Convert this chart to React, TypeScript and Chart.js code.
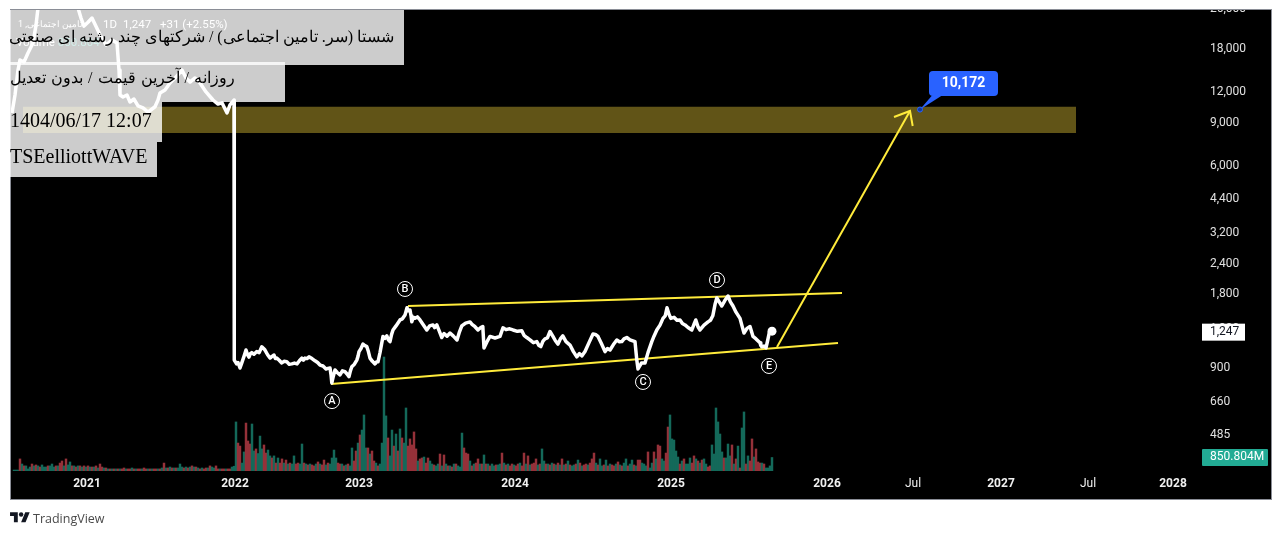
import React, { useEffect, useRef } from 'react';
import { Chart, registerables } from 'chart.js';

Chart.register(...registerables);

// === Price line (bar number, closing price) ===
const priceBars = [
  -1, 0.5, 2, 3, 5, 7, 9.5, 11, 12, 13,
  30, 32, 33.5, 35, 37, 39, 43, 46, 49, 51.5,
  52.5, 53, 54.5, 56.5, 58, 60, 62, 64.5, 67, 70.5,
  72, 73, 75.5, 78, 81.5, 84, 86, 88, 90.5, 93,
  96, 99.5, 102, 104, 106.5, 108, 110, 110, 110,
  110.4, 111.3, 112, 113, 113.9, 115, 116, 116.8, 117.5, 118.2,
  118.9, 120, 121.4, 122.6, 123.9, 124.8, 125.5, 126.8, 128, 129,
  130, 130.7, 131.4, 132.6, 133.9, 135, 136.4, 137.6, 138.9, 140.2,
  141.5, 142.7, 143.9, 144.7, 145.5, 146.5, 147.5, 149, 150.5, 151.8,
  153, 154.5, 156, 157, 158, 158.5, 158.9, 159.7, 160.5, 161.7,
  163, 164.2, 165.5, 166.5, 167.5, 168.2, 168.9, 170.2, 171.4, 172,
  172.5, 173.5, 174.5, 175.4, 176.4, 177.2, 178, 179.2, 180.5, 181.2,
  182, 183, 184.5, 185.4, 186.4, 187.2, 188, 188.8, 189.5, 191,
  193, 194.2, 195.5, 196, 196.5, 197.2, 198, 198.5, 198.9, 199.7,
  200.5, 201.7, 203, 204.2, 205.3, 206.4, 207.8, 209.5, 210.3, 211.4,
  212.6, 213.9, 215, 216.5, 218, 219.7, 221.5, 222.6, 223.9, 225.8,
  228, 229, 230.5, 232, 233.4, 234.4, 235, 236.5, 238, 240.5,
  243, 244.5, 246, 247.8, 249.5, 251.7, 253.9, 255, 256.4, 258,
  259.7, 261.4, 262.5, 263.4, 264.5, 265.5, 266.7, 268, 269.4, 270.7,
  272, 273.2, 274.4, 276, 278, 279.7, 281.4, 282.7, 284, 285.5,
  287.5, 289.5, 290.7, 292, 293.7, 295.5, 296.7, 298, 299.7, 301.4,
  302.7, 303.9, 305, 306.4, 308, 310.5, 311.4, 312, 313.7, 315.5,
  317, 318.9, 320, 321.4, 323, 324.5, 325.6, 326.5, 327.5, 328.4,
  330, 331.5, 333, 334.2, 335.5, 337, 338.9, 340, 340.9, 342,
  343, 345, 347, 348.2, 349.4, 350.5, 351.4, 352.6, 353.9, 355.4,
  357, 358.2, 359.5, 361, 363, 364, 365, 366.5, 368, 368.8,
  369.5, 371, 373, 373.4, 373.9, 375, 376, 376.8, 377.6, 379,
];
const priceValues = [
  9615, 11380, 14380, 15800, 15500, 16870, 18520, 21900, 25700, 35000,
  35000, 25700, 23400, 21700, 22500, 23400, 20000, 18180, 19060, 18520,
  14380, 11380, 11170, 11380, 10660, 10960, 10270, 10080, 9700, 10196,
  10860, 11600, 11930, 12740, 13600, 14380, 13350, 12850, 13350, 12740,
  11710, 10860, 10460, 10570, 9615, 10370, 10860, 4260, 997,
  951, 918, 930, 883, 926, 985, 1045, 1000, 978, 1010,
  1020, 1005, 1030, 1020, 1077, 1060, 1045, 1000, 969, 985,
  997, 965, 969, 950, 926, 940, 936, 915, 918, 925,
  918, 945, 969, 950, 969, 965, 980, 965, 945, 930,
  908, 900, 875, 880, 883, 830, 768, 820, 867, 845,
  828, 860, 853, 835, 815, 860, 894, 915, 951, 985,
  1030, 1060, 1105, 1090, 1079, 1030, 969, 940, 918, 935,
  936, 1020, 1187, 1165, 1193, 1150, 1131, 1210, 1261, 1310,
  1385, 1400, 1452, 1500, 1552, 1510, 1520, 1440, 1363, 1420,
  1406, 1425, 1385, 1340, 1300, 1261, 1310, 1322, 1290, 1322,
  1250, 1175, 1220, 1190, 1225, 1190, 1148, 1230, 1309, 1345,
  1360, 1330, 1300, 1261, 1290, 1303, 1065, 1130, 1187, 1170,
  1187, 1287, 1265, 1275, 1261, 1245, 1252, 1200, 1175, 1150,
  1120, 1131, 1090, 1079, 1135, 1160, 1170, 1243, 1190, 1140,
  1105, 1160, 1193, 1130, 1095, 1030, 980, 1010, 990, 1030,
  1120, 1215, 1210, 1187, 1110, 1030, 1060, 1045, 1100, 1148,
  1130, 1131, 1160, 1175, 1150, 1131, 951, 875, 925, 926,
  1020, 1131, 1190, 1261, 1320, 1406, 1440, 1552, 1460, 1406,
  1420, 1380, 1385, 1340, 1322, 1290, 1261, 1330, 1385, 1300,
  1261, 1320, 1360, 1380, 1440, 1600, 1701, 1640, 1578, 1660,
  1733, 1640, 1578, 1490, 1406, 1310, 1225, 1280, 1303, 1240,
  1187, 1160, 1118, 1090, 1077, 1085, 1067, 1140, 1225, 1247,
];

// === Volume in millions, one value per bar ===
const volumes = [
  60, 60, 60, 760, 440, 320, 320, 130, 250, 440,
  320, 380, 320, 250, 380, 250, 250, 320, 320, 440,
  250, 320, 320, 500, 630, 320, 760, 380, 570, 320,
  320, 250, 320, 320, 250, 320, 250, 320, 250, 250,
  250, 320, 190, 440, 250, 190, 190, 130, 130, 130,
  130, 130, 130, 130, 130, 190, 130, 130, 130, 190,
  130, 130, 130, 130, 130, 190, 130, 130, 130, 130,
  130, 130, 130, 130, 190, 500, 190, 190, 250, 190,
  190, 190, 190, 440, 250, 190, 250, 190, 250, 320,
  250, 250, 190, 130, 190, 130, 190, 190, 320, 250,
  190, 320, 130, 130, 130, 130, 130, 130, 130, 250,
  300, 3090, 1760, 1570, 500, 1200, 3020, 1890, 1700, 2960,
  1260, 1390, 1100, 2200, 1390, 1640, 1130, 1320, 950, 820,
  950, 500, 820, 500, 760, 500, 690, 440, 500, 440,
  950, 440, 500, 440, 1700, 500, 440, 380, 440, 380,
  320, 440, 570, 440, 380, 690, 380, 500, 440, 820,
  1320, 820, 500, 440, 440, 320, 380, 440, 320, 1450,
  630, 1260, 1760, 2270, 2580, 3530, 1450, 1450, 1070, 1260,
  630, 500, 320, 440, 1760, 7180, 3470, 2080, 950, 2580,
  1570, 2330, 1260, 2650, 2080, 1760, 3970, 1570, 2020, 1640,
  2460, 1390, 630, 760, 820, 880, 500, 820, 630, 440,
  380, 320, 440, 1070, 320, 1010, 440, 320, 320, 250,
  440, 440, 320, 250, 2390, 1450, 1130, 1070, 630, 320,
  440, 500, 760, 440, 440, 1010, 440, 440, 320, 440,
  320, 380, 380, 440, 1130, 500, 380, 440, 320, 440,
  380, 320, 440, 500, 320, 1130, 440, 950, 380, 440,
  500, 760, 380, 440, 1390, 630, 440, 440, 380, 500,
  440, 380, 500, 380, 760, 380, 440, 630, 380, 320,
  380, 440, 690, 500, 320, 380, 440, 380, 500, 760,
  1130, 500, 380, 760, 320, 380, 690, 320, 440, 380,
  320, 440, 570, 380, 320, 500, 760, 320, 440, 690,
  380, 320, 690, 690, 500, 440, 320, 1200, 190, 500,
  1200, 760, 1640, 1570, 760, 630, 1130, 2770, 3530, 2020,
  1950, 1260, 880, 440, 630, 760, 440, 440, 820, 500,
  950, 760, 630, 500, 690, 760, 440, 250, 320, 1640,
  1070, 3970, 3090, 2330, 1200, 820, 820, 1700, 950, 1640,
  440, 760, 1570, 190, 2710, 3720, 440, 950, 630, 2020,
  880, 1390, 570, 500, 500, 440, 190, 190, 320, 850.804,
];
const volumeSides =
  'gggrgrgggr' + 'grgrgggrgg' + 'grgrrgrggr' + 'grgrgrgrgr' + 'grgrrgrgrg' + 'rgrgrrgrrg' + 'rgrrgrrgrg' +
  'rrgrgrgrgr' + 'grgggrgrgr' + 'grgrgrrgrg' + 'grrgrrgrrg' + 'ggrrggrrrg' + 'grgggrrggr' + 'grgrrgrgrg' +
  'grrggrgrgr' + 'rgrgrrgrgg' + 'ggrrgrgrgg' + 'rrgrgggrgr' + 'rgrggggrgg' + 'rgrgrggrrr' + 'rrgrrgrrgg' +
  'rggrgrgrgr' + 'grgggrrrgr' + 'grrgrgrgrg' + 'grggrgrgrr' + 'grrgrrgrgr' + 'rrgrggrgrg' + 'rgrgrgrgrg' +
  'grgrgrrgrr' + 'rgrggrgrgr' + 'rgrgrggrgg' + 'rgrrgggrgg' + 'rgrrggrrgg' + 'gggrgrgggr' + 'rgrgrggrrg' +
  'gggggrgggr' + 'grgrggrgrr' + 'grrrgrgggg';

// === Drawings ===
const upperChannelBars = [197, 414];
const upperChannelPrices = [1579, 1783];
const lowerChannelBars = [158.5, 412];
const lowerChannelPrices = [760, 1116];
const arrowBars = [381.5, 448];
const arrowPrices = [1075, 9800];
const arrowHeadBars = [440, 448, 449.35];
const arrowHeadPrices = [9260, 9800, 8515];
const waveBars = [159, 195.5, 314.5, 351.5, 377.5];
const wavePrices = [648, 1851, 775, 2013, 900];
const waveLabels = ['A', 'B', 'C', 'D', 'E'];
const bandBars = [4.5, 531];
const bandTop = 10196;
const bandBottom = 7970;
const targetBar = 453;
const targetPrice = 9930;
const targetLabel = '10,172';

// === Axes ===
const priceTicks = [26000, 18000, 12000, 9000, 6000, 4400, 3200, 2400, 1800, 1300, 900, 660, 485];
const xTickBars = [36.5, 110.5, 172.5, 250.5, 328.5, 406.5, 449.5, 493.5, 537, 579.5];
const xTickLabels = ['2021', '2022', '2023', '2024', '2025', '2026', 'Jul', '2027', 'Jul', '2028'];
const lastPrice = 1247;
const lastVolume = 850.804;

const FONT = 'Roboto, sans-serif';
const YELLOW = '#ffeb3b';

const toPoints = (xs: number[], ys: number[]) => xs.map((x, i) => ({ x, y: ys[i] }));

const yellowLine = (xs: number[], ys: number[]) => ({
  type: 'line' as const,
  data: toPoints(xs, ys),
  yAxisID: 'y',
  borderColor: YELLOW,
  borderWidth: 2,
  pointRadius: 0,
  order: 3,
});

const framePlugin = {
  id: 'frame',
  beforeDraw(chart: any) {
    const { ctx, width, height } = chart;
    ctx.save();
    ctx.fillStyle = '#000';
    ctx.fillRect(0, 0, width, height);
    ctx.restore();
  },
  afterDraw(chart: any) {
    const { ctx, width, height, scales } = chart;
    const { x, y, vol } = scales;
    ctx.save();

    // wave letters
    ctx.font = `500 11px ${FONT}`;
    ctx.fillStyle = '#fff';
    ctx.textAlign = 'center';
    ctx.textBaseline = 'middle';
    waveLabels.forEach((label, i) => {
      ctx.fillText(label, x.getPixelForValue(waveBars[i]), y.getPixelForValue(wavePrices[i]) + 0.5);
    });

    // target callout
    const tx = x.getPixelForValue(targetBar);
    const ty = y.getPixelForValue(targetPrice);
    ctx.fillStyle = '#2962ff';
    ctx.beginPath();
    ctx.moveTo(tx, ty);
    ctx.lineTo(tx + 12, ty - 14);
    ctx.lineTo(tx + 22, ty - 14);
    ctx.closePath();
    ctx.fill();
    ctx.beginPath();
    ctx.roundRect(tx + 9, ty - 38.5, 69, 25, 4);
    ctx.fill();
    ctx.beginPath();
    ctx.arc(tx, ty, 2.5, 0, Math.PI * 2);
    ctx.fillStyle = '#123a9c';
    ctx.fill();
    ctx.strokeStyle = '#2962ff';
    ctx.lineWidth = 1;
    ctx.stroke();
    ctx.fillStyle = '#fff';
    ctx.font = `bold 14px ${FONT}`;
    ctx.fillText(targetLabel, tx + 43.5, ty - 26);

    // last value tags on the price scale
    ctx.textAlign = 'left';
    ctx.font = `12px ${FONT}`;
    const py = y.getPixelForValue(lastPrice) + 1;
    ctx.fillStyle = '#fff';
    ctx.fillRect(1202, py - 8.5, 43, 17);
    ctx.fillStyle = '#131722';
    ctx.fillText('1,247', 1210, py);
    const vy = vol.getPixelForValue(lastVolume);
    ctx.fillStyle = '#22ab94';
    ctx.beginPath();
    ctx.roundRect(1202, vy - 8.5, 66, 17, 1);
    ctx.fill();
    ctx.fillStyle = '#fff';
    ctx.fillText('850.804M', 1210, vy);

    // page around the chart pane
    ctx.fillStyle = '#fff';
    ctx.fillRect(0, 0, width, 10);
    ctx.fillRect(0, 0, 10, height);
    ctx.fillRect(1272, 0, width - 1272, height);
    ctx.fillRect(0, 499, width, height - 499);
    ctx.strokeStyle = '#8a8d96';
    ctx.lineWidth = 1;
    ctx.strokeRect(10.5, 9.5, 1261, 490);
    ctx.restore();
  },
};

const boxStyle: React.CSSProperties = {
  position: 'absolute',
  left: 10,
  background: 'rgba(255,255,255,0.8)',
  color: '#000',
  fontSize: 20,
  whiteSpace: 'nowrap',
  boxSizing: 'border-box',
};

const legendStyle: React.CSSProperties = {
  position: 'absolute',
  fontFamily: FONT,
  fontSize: 11.5,
  color: '#fff',
  whiteSpace: 'nowrap',
};

export default function App() {
  const canvasRef = useRef<HTMLCanvasElement>(null);

  useEffect(() => {
    document.body.style.margin = '0';
    if (!canvasRef.current) return;

    const chart = new Chart(canvasRef.current, {
      type: 'bar',
      data: {
        datasets: [
          {
            type: 'line',
            data: toPoints(bandBars, [bandTop, bandTop]),
            yAxisID: 'y',
            borderWidth: 0,
            pointRadius: 0,
            backgroundColor: '#615417',
            fill: { value: bandBottom },
            order: 5,
          },
          {
            type: 'bar',
            data: volumes.map((v, i) => ({ x: i, y: v })),
            yAxisID: 'vol',
            barThickness: 1.8,
            backgroundColor: volumes.map((_, i) => (volumeSides[i] === 'g' ? '#14695a' : '#953139')),
            order: 4,
          },
          yellowLine(upperChannelBars, upperChannelPrices),
          yellowLine(lowerChannelBars, lowerChannelPrices),
          yellowLine(arrowBars, arrowPrices),
          yellowLine(arrowHeadBars, arrowHeadPrices),
          {
            type: 'line',
            data: toPoints(priceBars, priceValues),
            yAxisID: 'y',
            borderColor: '#fff',
            borderWidth: 3.5,
            borderJoinStyle: 'round',
            pointRadius: 0,
            order: 2,
          },
          {
            type: 'line',
            data: [{ x: priceBars[priceBars.length - 1], y: lastPrice }],
            yAxisID: 'y',
            showLine: false,
            pointRadius: 4.5,
            pointBackgroundColor: '#fff',
            pointBorderWidth: 0,
            order: 2,
          },
          {
            type: 'line',
            data: toPoints(waveBars, wavePrices),
            yAxisID: 'y',
            showLine: false,
            pointRadius: 7.5,
            pointBackgroundColor: '#000',
            pointBorderColor: '#fff',
            pointBorderWidth: 1,
            order: 1,
          },
        ] as any,
      },
      options: {
        responsive: false,
        animation: false,
        events: [],
        layout: { padding: 0, autoPadding: false },
        plugins: { legend: { display: false }, tooltip: { enabled: false } },
        scales: {
          x: {
            type: 'linear',
            min: -7,
            max: 595.5,
            offset: false,
            grid: { display: false, drawTicks: false },
            border: { display: false },
            afterBuildTicks: (s: any) => {
              s.ticks = xTickBars.map((value) => ({ value }));
            },
            afterFit: (s: any) => {
              s.height = 64;
              s.paddingLeft = 0;
              s.paddingRight = 0;
            },
            ticks: {
              autoSkip: false,
              maxRotation: 0,
              padding: 6,
              color: '#f0f0f0',
              font: (c: any) => ({
                family: FONT,
                size: 12,
                weight: xTickLabels[xTickBars.indexOf(c.tick?.value)] === 'Jul' ? 'normal' : 'bold',
              }),
              callback: (v: any) => xTickLabels[xTickBars.indexOf(v)],
            },
          },
          y: {
            type: 'logarithmic',
            position: 'right',
            min: 336.7,
            max: 27700,
            bounds: 'data',
            grid: { display: false, drawTicks: false },
            border: { display: false },
            afterBuildTicks: (s: any) => {
              s.ticks = priceTicks.map((value) => ({ value }));
            },
            afterFit: (s: any) => {
              s.width = 77;
              s.paddingTop = 0;
              s.paddingBottom = 0;
            },
            ticks: {
              autoSkip: false,
              padding: 5,
              labelOffset: 2.5,
              crossAlign: 'near',
              color: '#e0e0e0',
              font: { family: FONT, size: 12 },
              callback: (v: any) => Number(v).toLocaleString('en-US'),
            },
          },
          vol: {
            type: 'linear',
            display: false,
            min: 0,
            max: 29673,
          },
        } as any,
      },
      plugins: [framePlugin],
    });

    return () => chart.destroy();
  }, []);

  return (
    <div style={{ position: 'absolute', left: 0, top: 0, width: 1282, height: 535, background: '#fff', overflow: 'hidden' }}>
      <canvas ref={canvasRef} width={1282} height={535} style={{ position: 'absolute', left: 0, top: 0 }} />

      {/* chart legend, sits under the watermark boxes */}
      <div style={{ ...legendStyle, left: 18, top: 19, width: 84, overflow: 'hidden', fontSize: 9 }}>1 ,تامین اجتماعی</div>
      <div style={{ ...legendStyle, left: 103, top: 17 }}>1D</div>
      <div style={{ ...legendStyle, left: 123, top: 17 }}>1,247</div>
      <div style={{ ...legendStyle, left: 160, top: 17 }}>+31 (+2.55%)</div>
      <div style={{ ...legendStyle, left: 16, top: 35 }}>
        Volume <span style={{ color: '#22ab94' }}>850.804</span>
      </div>

      {/* watermark boxes */}
      <div style={{ ...boxStyle, top: 10, width: 394, height: 55, paddingTop: 17, paddingRight: 10, direction: 'rtl', fontSize: 16 }}>
        شستا (سر. تامین اجتماعی) / شرکتهای چند رشته ای صنعتی
      </div>
      <div style={{ ...boxStyle, top: 62, width: 275, height: 40, paddingTop: 6, paddingRight: 50, direction: 'rtl', fontSize: 16, wordSpacing: 1 }}>
        روزانه / آخرین قیمت / بدون تعدیل
      </div>
      <div style={{ ...boxStyle, top: 102, width: 152, height: 40, paddingTop: 7 }}>1404/06/17 12:07</div>
      <div style={{ ...boxStyle, top: 142, width: 147, height: 35, paddingTop: 3 }}>TSEelliottWAVE</div>

      {/* footer logo */}
      <svg viewBox="0 0 36 28" width="20" height="15.5" style={{ position: 'absolute', left: 10, top: 510 }}>
        <path d="M14 22H7V11H0V4h14v18zM28 22h-8l7.5-18h8L28 22z" fill="#131722" />
        <circle cx="20" cy="8" r="4" fill="#131722" />
      </svg>
      <div style={{ position: 'absolute', left: 33, top: 510, fontFamily: '"Open Sans", sans-serif', fontSize: 12.5, color: '#4a4a4a' }}>TradingView</div>
    </div>
  );
}
